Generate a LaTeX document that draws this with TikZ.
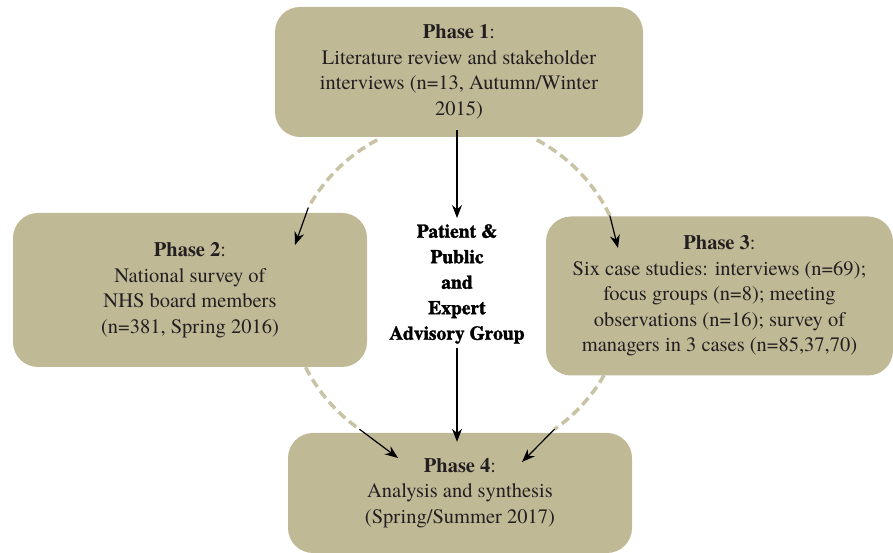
\documentclass[tikz,border=0pt]{standalone}
\usepackage{fontspec}
\setmainfont{texgyretermes}[Extension=.otf,UprightFont=*-regular,BoldFont=*-bold,ItalicFont=*-italic]
\newfontfamily\heavyfont{texgyretermes}[Extension=.otf,UprightFont=*-regular,BoldFont=*-bold,BoldFeatures={FakeBold=1.6}]
\usetikzlibrary{arrows.meta,calc}
\definecolor{khaki}{RGB}{191,185,150}
\definecolor{khakidash}{RGB}{200,195,165}
\definecolor{phasetext}{RGB}{35,31,32}

\begin{document}
\begin{tikzpicture}[x=1pt,y=1pt,
    phase/.style={fill=khaki,rounded corners=25pt,align=center,text=phasetext,
        font=\fontsize{20.5}{25.5}\selectfont,inner sep=0pt},
    advisory/.style={align=center,font=\heavyfont\bfseries\fontsize{19.5}{25.5}\selectfont,inner sep=8pt},
    dasharc/.style={draw=khakidash,line width=3.5pt,dash pattern=on 9pt off 5pt},
    tip/.style={-{Stealth[length=13pt,width=10pt]},line width=1.2pt}]
    \useasboundingbox (0,0) rectangle (893,553);
    % phases
    \node[phase,minimum width=368pt,minimum height=130pt] (p1) at (459,481)
    {\textbf{Phase 1}:\\Literature review and stakeholder\\interviews (n=13, Autumn/Winter\\2015)};
    \node[phase,minimum width=354pt,minimum height=154pt] (p2) at (190,263)
    {\textbf{Phase 2}:\\National survey of\\NHS board members\\(n=381, Spring 2016)};
    \node[phase,minimum width=347pt,minimum height=159pt] (p3) at (719.5,257)
    {\textbf{Phase 3}:\\Six case studies: interviews (n=69);\\focus groups (n=8); meeting\\observations (n=16); survey of\\managers in 3 cases (n=85,37,70)};
    \node[phase,minimum width=344pt,minimum height=120pt] (p4) at (460,60)
    {\textbf{Phase 4}:\\Analysis and synthesis\\(Spring/Summer 2017)};
    \node[advisory] (apg) at (457,269)
    {Patient \&\\Public\\and\\Expert\\Advisory Group};
    % advisory group
    \draw[tip] ([yshift=7pt]p1.south -| apg) -- ([yshift=-2pt]apg.north);
    \draw[tip] ([yshift=4pt]apg.south) -- ([yshift=-9pt]p4.north -| apg);
    % dashed circle
    \coordinate (c) at (457,263);
    \draw[dasharc] ($(c)+(118:170)$) arc[start angle=118,end angle=151,radius=170] coordinate (a12);
    \draw[dasharc] ($(c)+(62:170)$) arc[start angle=62,end angle=26,radius=170] coordinate (a13);
    \draw[dasharc] ($(c)+(207:170)$) arc[start angle=207,end angle=235,radius=170] coordinate (a24);
    \draw[dasharc] ($(c)+(330:170)$) arc[start angle=330,end angle=305,radius=170] coordinate (a34);
    \coordinate (e2) at (295,308);
    \coordinate (e3) at (618,305);
    \coordinate (e24) at (398,95);
    \coordinate (e34) at (522,91);
    \draw[tip] (a12) -- (e2);
    \draw[tip] (a13) -- (e3);
    \draw[tip] (a24) -- (e24);
    \draw[tip] (a34) -- (e34);
\end{tikzpicture}
\end{document}
